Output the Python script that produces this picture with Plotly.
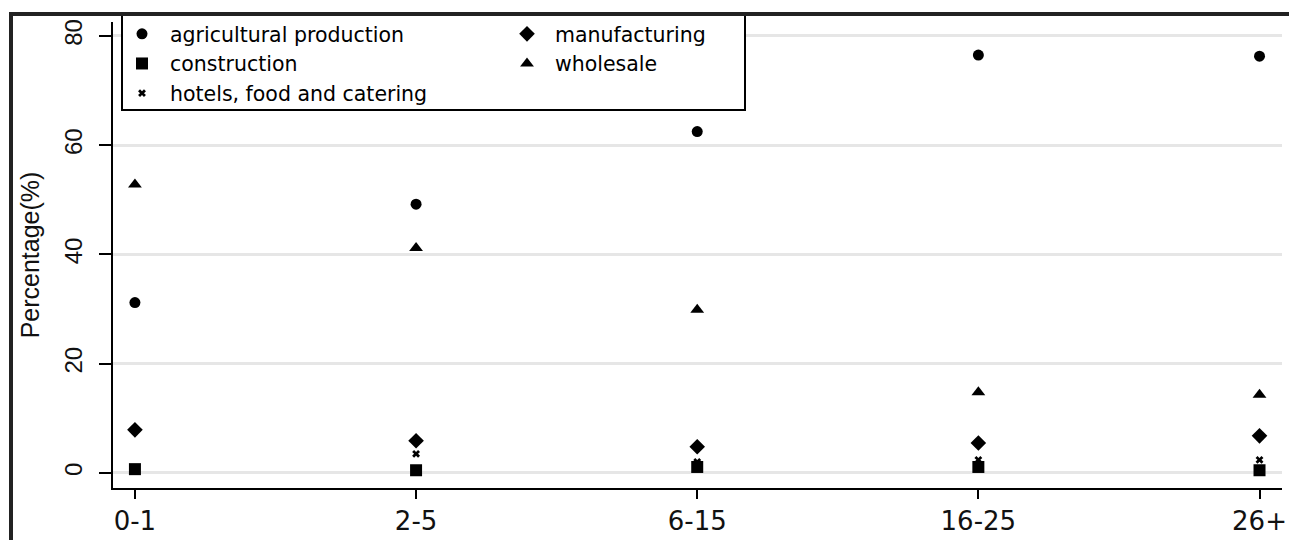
import plotly.graph_objects as go

categories = ["0-1", "2-5", "6-15", "16-25", "26+"]
agricultural = [31.2, 49.2, 62.5, 76.5, 76.3]
manufacturing = [7.9, 5.9, 4.8, 5.5, 6.8]
construction = [0.7, 0.5, 1.1, 1.1, 0.5]
wholesale = [52.8, 41.2, 29.9, 14.8, 14.3]
hotels = [0.6, 3.5, 2.0, 2.4, 2.4]
y_ticks = [0, 20, 40, 60, 80]

# page body has an 8px margin; shift the whole figure to compensate
OFF = 8
W, H = 1297 - OFF, 540 - OFF
L, R, T, B = 113 - OFF, 15, 22 - OFF, 52
pw, ph = W - L - R, H - T - B


def px(xp):  # reference pixel -> paper x
    return (xp - OFF - L) / pw


def py(yp):  # reference pixel -> paper y
    return (H - B - (yp - OFF)) / ph


fig = go.Figure()
series = [
    ("agricultural production", agricultural, "circle", 11, "legend"),
    ("manufacturing", manufacturing, "diamond", 12, "legend2"),
    ("construction", construction, "square", 12, "legend"),
    ("wholesale", wholesale, "triangle-up", 12, "legend2"),
    ("hotels, food and catering", hotels, "x", 7, "legend"),
]
for name, vals, sym, size, leg in series:
    fig.add_trace(go.Scatter(
        x=categories, y=vals, mode="markers", name=name, legend=leg,
        marker=dict(symbol=sym, size=size, color="black", line=dict(width=0)),
        cliponaxis=False,
    ))

legend_font = dict(family="DejaVu Sans", size=20.5, color="black")
leg_common = dict(xanchor="left", yanchor="top", bgcolor="rgba(0,0,0,0)",
                  borderwidth=0, font=legend_font, tracegroupgap=0,
                  orientation="v", itemwidth=46)
fig.update_layout(
    width=W, height=H,
    margin=dict(l=L, r=R, t=T, b=B, autoexpand=False),
    paper_bgcolor="white", plot_bgcolor="white",
    showlegend=True,
    legend=dict(x=px(114), y=py(14), **leg_common),
    legend2=dict(x=px(499), y=py(14), **leg_common),
    xaxis=dict(
        type="category", range=[-0.078, 4.08],
        showgrid=False, zeroline=False,
        showline=True, linecolor="black", linewidth=2,
        ticks="outside", ticklen=9, tickwidth=2, tickcolor="black",
        tickfont=dict(family="DejaVu Sans", size=26, color="#111"),
    ),
    yaxis=dict(
        range=[-2.75, 82.56],
        tickvals=y_ticks, ticktext=[str(v) for v in y_ticks],
        tickangle=-90,
        showgrid=True, gridcolor="#e6e6e6", gridwidth=3,
        zeroline=False,
        showline=True, linecolor="black", linewidth=2,
        ticks="outside", ticklen=12, tickwidth=2, tickcolor="black",
        ticklabelstandoff=7,
        tickfont=dict(family="Liberation Sans", size=24, color="#111"),
        title=dict(text="Percentage(%)", standoff=14,
                   font=dict(family="Liberation Sans", size=25, color="#111")),
    ),
    shapes=[
        dict(type="rect", xref="paper", yref="paper",
             x0=px(122), x1=px(745), y0=py(110), y1=py(15),
             line=dict(color="black", width=2), fillcolor="white", layer="above"),
        dict(type="rect", xref="paper", yref="paper",
             x0=px(11), x1=px(1295), y0=py(580), y1=py(14),
             line=dict(color="#222", width=4), fillcolor="rgba(0,0,0,0)", layer="above"),
    ],
)

fig.write_html("out.html")
